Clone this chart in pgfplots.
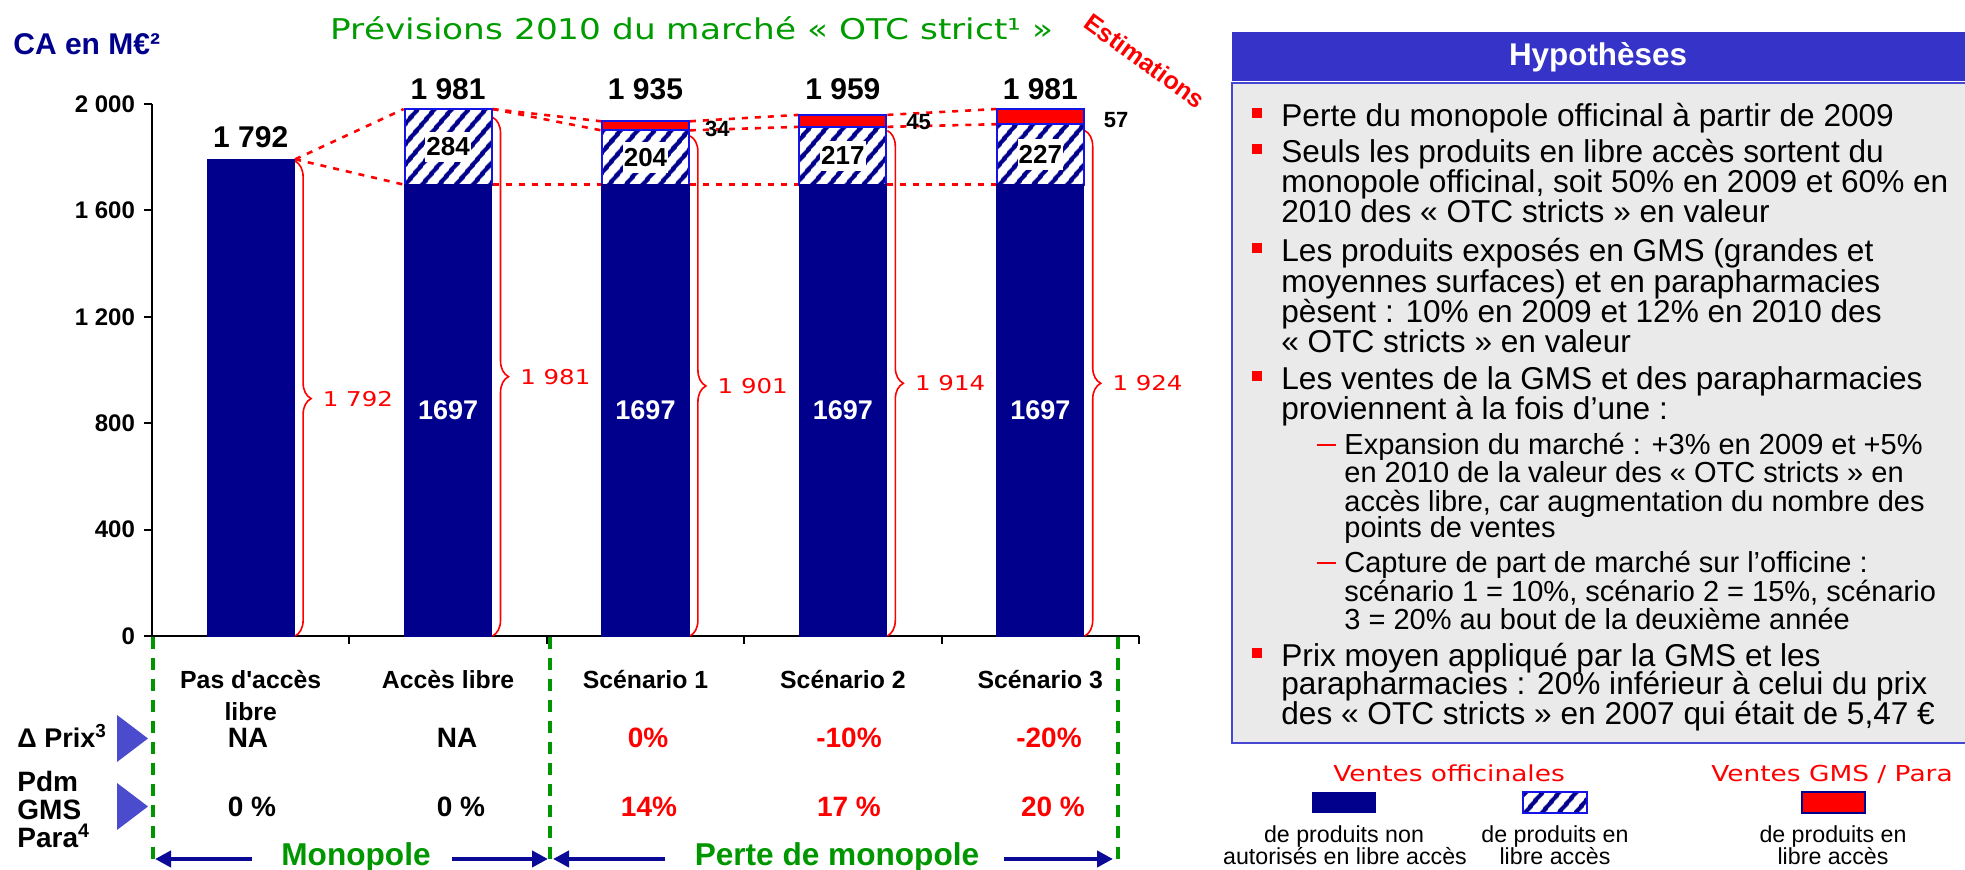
\documentclass[border=0pt]{standalone}
\usepackage{fontspec}
\setmainfont{Liberation Sans}
\newfontfamily\thinfont{DejaVu Sans}[FakeStretch=1.2]
\usepackage{pgfplots}
\pgfplotsset{compat=1.18}
\usetikzlibrary{patterns.meta,decorations.pathreplacing,arrows.meta}
\definecolor{navybar}{RGB}{0,0,140}
\definecolor{edgeblue}{RGB}{20,20,230}
\definecolor{titlegreen}{RGB}{0,155,0}
\definecolor{dashgreen}{RGB}{0,150,0}
\definecolor{hdrblue}{RGB}{53,51,200}
\definecolor{panelgray}{RGB}{234,234,234}
\definecolor{panelborder}{RGB}{70,70,210}
\definecolor{tri}{RGB}{75,75,205}
\definecolor{arrownavy}{RGB}{10,10,150}
\newcommand{\fs}[2]{\fontsize{#1}{#2}\selectfont}
\tikzset{hatch/.style={fill=white, postaction={pattern={Lines[angle=50,distance=6.5pt,line width=2.3pt]}, pattern color=navybar}},
  reddot/.style={red, line width=1.3pt, dash pattern=on 3pt off 3.5pt},
  rbrace/.style={red, line width=0.8pt, decorate, decoration={brace, amplitude=8pt}},
  bracelab/.style={anchor=west, inner sep=0, xshift=13.5pt, text=red, font=\thinfont\fs{10.2}{11}},
  inlab/.style={fill=white, inner xsep=0.5pt, inner ysep=3pt, font=\bfseries\fs{13}{13}},
  tot/.style={font=\bfseries\fs{15}{15}},
  wlab/.style={text=white, font=\bfseries\fs{13.5}{13.5}},
  slab/.style={anchor=west, inner sep=0, font=\bfseries\fs{11}{11}},
  pl/.style={anchor=base west, inner sep=0, font=\fs{15.8}{16}},
  sl/.style={anchor=base west, inner sep=0, font=\fs{14.5}{15}}}
\begin{document}
\begin{tikzpicture}[x=0.5pt,y=0.5pt]
\useasboundingbox (0,0) rectangle (1965,870);
\fill[white] (0,0) rectangle (1965,870);
\begin{axis}[
  at={(76pt,117pt)}, anchor=south west,
  scale only axis, width=493.5pt, height=266pt,
  xmin=-0.5, xmax=4.5, ymin=0, ymax=2000,
  axis x line*=bottom, axis y line*=left,
  axis line style={line width=1pt, -},
  ybar stacked, bar width=0.44,
  ytick={0,400,800,1200,1600,2000},
  yticklabels={0,400,800,1 200,1 600,2 000},
  xtick={0.5,1.5,2.5,3.5,4.5},
  xticklabels={,,,,},
  extra x ticks={0,1,2,3,4},
  extra x tick labels={{Pas d\textquotesingle accès\\libre},Accès libre,Scénario 1,Scénario 2,Scénario 3},
  extra x tick style={major tick length=0pt},
  tick align=outside, major tick length=4pt,
  tick style={line width=1pt, black},
  yticklabel style={font=\bfseries\fs{12}{12}, xshift=-1pt},
  xticklabel style={font=\bfseries\fs{12.4}{16}, align=center, yshift=-13.5pt},
  clip=false,
]
\addplot[fill=navybar, draw=navybar, line width=0.6pt] coordinates {(0,1792) (1,1697) (2,1697) (3,1697) (4,1697)};
\addplot[hatch, draw=edgeblue, line width=1pt] coordinates {(0,0) (1,284) (2,204) (3,217) (4,227)};
\addplot[fill=red, draw=edgeblue, line width=1pt] coordinates {(0,0) (1,0) (2,34) (3,45) (4,57)};
% dotted connectors
\draw[reddot] (axis cs:0.225,1792) -- (axis cs:0.775,1981);
\draw[reddot] (axis cs:0.225,1792) -- (axis cs:0.775,1697);
\draw[reddot] (axis cs:1.225,1981) -- (axis cs:1.775,1935);
\draw[reddot] (axis cs:1.225,1981) -- (axis cs:1.775,1901);
\draw[reddot] (axis cs:1.225,1697) -- (axis cs:1.775,1697);
\draw[reddot] (axis cs:2.225,1697) -- (axis cs:2.775,1697);
\draw[reddot] (axis cs:3.225,1697) -- (axis cs:3.775,1697);
\draw[reddot] (axis cs:2.225,1935) -- (axis cs:2.775,1959);
\draw[reddot] (axis cs:2.225,1901) -- (axis cs:2.775,1914);
\draw[reddot] (axis cs:3.225,1959) -- (axis cs:3.775,1981);
\draw[reddot] (axis cs:3.225,1914) -- (axis cs:3.775,1924);
% braces
\draw[rbrace] (axis cs:0.225,1785) -- (axis cs:0.225,0) node[midway, bracelab] {1 792};
\draw[rbrace] (axis cs:1.225,1950) -- (axis cs:1.225,0) node[midway, bracelab] {1 981};
\draw[rbrace] (axis cs:2.225,1880) -- (axis cs:2.225,0) node[midway, bracelab] {1 901};
\draw[rbrace] (axis cs:3.225,1900) -- (axis cs:3.225,0) node[midway, bracelab] {1 914};
\draw[rbrace] (axis cs:4.225,1900) -- (axis cs:4.225,0) node[midway, bracelab] {1 924};
% label anchors
\coordinate (t0) at (axis cs:0,1876);
\coordinate (t1) at (axis cs:1,2056);
\coordinate (t2) at (axis cs:2,2056);
\coordinate (t3) at (axis cs:3,2056);
\coordinate (t4) at (axis cs:4,2056);
\coordinate (h1) at (axis cs:1,1839);
\coordinate (h2) at (axis cs:2,1799);
\coordinate (h3) at (axis cs:3,1805);
\coordinate (h4) at (axis cs:4,1810);
\coordinate (n1) at (axis cs:1,848);
\coordinate (n2) at (axis cs:2,848);
\coordinate (n3) at (axis cs:3,848);
\coordinate (n4) at (axis cs:4,848);
\coordinate (r2) at (axis cs:2.30,1906);
\coordinate (r3) at (axis cs:3.32,1932);
\coordinate (r4) at (axis cs:4.32,1940);
\end{axis}
% labels on top of the bars
\node[tot] at (t0) {1 792};
\node[tot] at (t1) {1 981};
\node[tot] at (t2) {1 935};
\node[tot] at (t3) {1 959};
\node[tot] at (t4) {1 981};
\node[inlab] at (h1) {284};
\node[inlab] at (h2) {204};
\node[inlab] at (h3) {217};
\node[inlab] at (h4) {227};
\node[wlab] at (n1) {1697};
\node[wlab] at (n2) {1697};
\node[wlab] at (n3) {1697};
\node[wlab] at (n4) {1697};
\node[slab] at (r2) {34};
\node[slab] at (r3) {45};
\node[slab] at (r4) {57};
\begin{scope}[y=-0.5pt, shift={(0,435pt)}]
% headings
\node[anchor=west, inner sep=0, text=navybar, font=\bfseries\fs{15}{15}] at (13,44) {CA en M€²};
\node[anchor=base, inner sep=0, text=titlegreen, font=\thinfont\fs{14.3}{15}] at (692,40) {Prévisions 2010 du marché « OTC strict¹ »};
\node[rotate=-36, inner sep=0, text=red, font=\bfseries\fs{12.5}{12.5}] at (1145,61) {Estimations};
% green dashed separators
\foreach \gx in {153,550,1118} \draw[dashgreen, line width=1.6pt, dash pattern=on 6pt off 4.5pt] (\gx,637) -- (\gx,866);
% row headers
\node[anchor=base west, inner sep=0, font=\bfseries\fs{13.5}{13.5}] at (17,748) {Δ Prix\textsuperscript{3}};
\node[anchor=base west, inner sep=0, font=\bfseries\fs{14}{14}] at (17,792) {Pdm};
\node[anchor=base west, inner sep=0, font=\bfseries\fs{14}{14}] at (17,820) {GMS};
\node[anchor=base west, inner sep=0, font=\bfseries\fs{14}{14}] at (17,848) {Para\textsuperscript{4}};
\fill[tri] (117,715) -- (117,762) -- (148,738.5) -- cycle;
\fill[tri] (117,783) -- (117,830) -- (148,806.5) -- cycle;
% row values
\node[anchor=base, inner sep=0, font=\bfseries\fs{14}{14}] at (248,748) {NA};
\node[anchor=base, inner sep=0, font=\bfseries\fs{14}{14}] at (457,748) {NA};
\node[anchor=base, inner sep=0, text=red, font=\bfseries\fs{14}{14}] at (648,748) {0\%};
\node[anchor=base, inner sep=0, text=red, font=\bfseries\fs{14}{14}] at (849,748) {-10\%};
\node[anchor=base, inner sep=0, text=red, font=\bfseries\fs{14}{14}] at (1049,748) {-20\%};
\node[anchor=base, inner sep=0, font=\bfseries\fs{14}{14}] at (252,817) {0 \%};
\node[anchor=base, inner sep=0, font=\bfseries\fs{14}{14}] at (461,817) {0 \%};
\node[anchor=base, inner sep=0, text=red, font=\bfseries\fs{14}{14}] at (649,817) {14\%};
\node[anchor=base, inner sep=0, text=red, font=\bfseries\fs{14}{14}] at (849,817) {17 \%};
\node[anchor=base, inner sep=0, text=red, font=\bfseries\fs{14}{14}] at (1053,817) {20 \%};
% bottom arrows
\draw[arrownavy, line width=2pt, -{Triangle[length=8pt,width=8pt]}] (252,859) -- (155,859);
\draw[arrownavy, line width=2pt, -{Triangle[length=8pt,width=8pt]}] (452,859) -- (548,859);
\draw[arrownavy, line width=2pt, -{Triangle[length=8pt,width=8pt]}] (665,859) -- (553,859);
\draw[arrownavy, line width=2pt, -{Triangle[length=8pt,width=8pt]}] (1004,859) -- (1113,859);
\node[anchor=base, inner sep=0, text=dashgreen, font=\bfseries\fs{15.8}{16}] at (356,866) {Monopole};
\node[anchor=base, inner sep=0, text=dashgreen, font=\bfseries\fs{15.8}{16}] at (837,866) {Perte de monopole};
% panel
\fill[hdrblue] (1232,32) rectangle (1995,81);
\node[text=white, font=\bfseries\fs{15.7}{16}] at (1598,57) {Hypothèses};
\filldraw[fill=panelgray, draw=panelborder, line width=1pt] (1232,83) rectangle (1995,743);
\foreach \b in {127,163,262,390,667} \fill[red] (1252,\b-19) rectangle (1262,\b-9);
\foreach \b in {455,573} \draw[red, line width=1.2pt] (1317,\b-10) -- (1336,\b-10);
\node[pl] at (1281,127) {Perte du monopole officinal à partir de 2009};
\node[pl] at (1281,163) {Seuls les produits en libre accès sortent du};
\node[pl] at (1281,193) {monopole officinal, soit 50\% en 2009 et 60\% en};
\node[pl] at (1281,223) {2010 des « OTC stricts » en valeur};
\node[pl] at (1281,262) {Les produits exposés en GMS (grandes et};
\node[pl] at (1281,293) {moyennes surfaces) et en parapharmacies};
\node[pl] at (1281,323) {pèsent : 10\% en 2009 et 12\% en 2010 des};
\node[pl] at (1281,353) {« OTC stricts » en valeur};
\node[pl] at (1281,390) {Les ventes de la GMS et des parapharmacies};
\node[pl] at (1281,420) {proviennent à la fois d’une :};
\node[sl] at (1344,455) {Expansion du marché : +3\% en 2009 et +5\%};
\node[sl] at (1344,483) {en 2010 de la valeur des « OTC stricts » en};
\node[sl] at (1344,512) {accès libre, car augmentation du nombre des};
\node[sl] at (1344,538) {points de ventes};
\node[sl] at (1344,573) {Capture de part de marché sur l’officine :};
\node[sl] at (1344,602) {scénario 1 = 10\%, scénario 2 = 15\%, scénario};
\node[sl] at (1344,630) {3 = 20\% au bout de la deuxième année};
\node[pl] at (1281,667) {Prix moyen appliqué par la GMS et les};
\node[pl] at (1281,695) {parapharmacies : 20\% inférieur à celui du prix};
\node[pl] at (1281,725) {des « OTC stricts » en 2007 qui était de 5,47 €};
% legend
\node[anchor=base, inner sep=0, text=red, font=\thinfont\fs{11}{11}] at (1449,782) {Ventes officinales};
\node[anchor=base, inner sep=0, text=red, font=\thinfont\fs{11}{11}] at (1832,782) {Ventes GMS / Para};
\fill[navybar] (1312,792) rectangle (1376,813);
\path[hatch] (1523,792) rectangle (1587,813);
\draw[edgeblue, line width=1pt] (1523,792) rectangle (1587,813);
\filldraw[fill=red, draw=navybar, line width=1pt] (1802,792) rectangle (1865,813);
\node[anchor=base, inner sep=0, font=\fs{11.6}{12}] at (1344,843) {de produits non};
\node[anchor=base, inner sep=0, font=\fs{11.6}{12}] at (1345,865) {autorisés en libre accès};
\node[anchor=base, inner sep=0, font=\fs{11.6}{12}] at (1555,843) {de produits en};
\node[anchor=base, inner sep=0, font=\fs{11.6}{12}] at (1555,865) {libre accès};
\node[anchor=base, inner sep=0, font=\fs{11.6}{12}] at (1833,843) {de produits en};
\node[anchor=base, inner sep=0, font=\fs{11.6}{12}] at (1833,865) {libre accès};
\end{scope}
\end{tikzpicture}
\end{document}
